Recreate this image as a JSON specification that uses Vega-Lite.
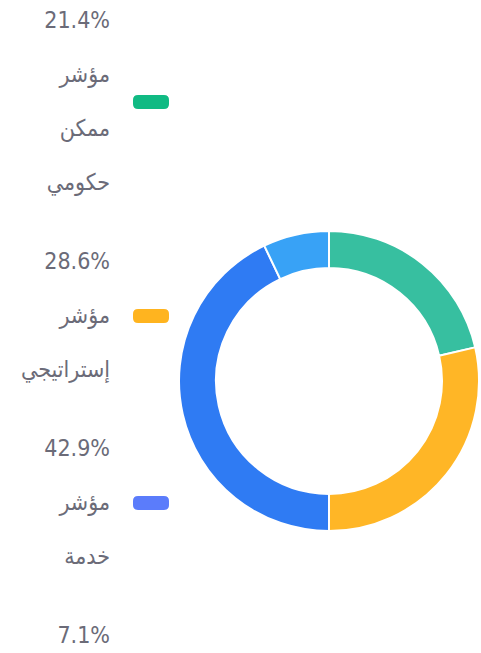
{
  "$schema": "https://vega.github.io/schema/vega-lite/v6.json",
  "width": 232,
  "height": 412,
  "autosize": {"type": "none"},
  "padding": {"left": 213, "top": 175, "right": 36, "bottom": 66},
  "background": "white",
  "view": {"stroke": null},
  "data": {
    "values": [
      {"name": "مؤشر ممكن حكومي", "pct": 21.4, "order": 1},
      {"name": "مؤشر إستراتيجي", "pct": 28.6, "order": 2},
      {"name": "مؤشر خدمة", "pct": 42.9, "order": 3},
      {"name": "مؤشر تشغيلي", "pct": 7.1, "order": 4}
    ]
  },
  "transform": [
    {"calculate": "format(datum.pct, '.1f') + '% ' + datum.name", "as": "key"}
  ],
  "encoding": {
    "theta": {"field": "pct", "type": "quantitative", "stack": true},
    "order": {"field": "order", "type": "quantitative"}
  },
  "layer": [
    {
      "mark": {"type": "arc", "outerRadius": 150, "innerRadius": 113, "opacity": 0},
      "encoding": {
        "color": {
          "field": "key",
          "type": "nominal",
          "sort": {"field": "order"},
          "scale": {"range": ["#10BA83", "#FFB41F", "#5B7CFB", "#38A2F6"]},
          "legend": {
            "orient": "none",
            "legendX": -80,
            "legendY": -91,
            "title": null,
            "direction": "vertical",
            "symbolType": "M-0.72,-0.39 L0.72,-0.39 Q1,-0.39 1,-0.11 L1,0.11 Q1,0.39 0.72,0.39 L-0.72,0.39 Q-1,0.39 -1,0.11 L-1,-0.11 Q-1,-0.39 -0.72,-0.39 Z",
            "symbolSize": 1296,
            "symbolStrokeWidth": 0,
            "symbolOpacity": 1,
            "labelExpr": "split(datum.label, ' ')",
            "labelAlign": "right",
            "labelOffset": -59,
            "labelFont": "DejaVu Sans Condensed, DejaVu Sans",
            "labelFontSize": 23,
            "labelColor": "#6b6b78",
            "labelLimit": 300,
            "rowPadding": 56,
            "encoding": {
              "labels": {
                "lineHeight": {"value": 54},
                "dy": {"value": {"expr": "-(length(split(datum.label, ' ')) - 1) * 27"}}
              }
            }
          }
        }
      }
    },
    {
      "mark": {"type": "arc", "outerRadius": 150, "innerRadius": 113, "stroke": "white", "strokeWidth": 2},
      "encoding": {
        "color": {
          "field": "key",
          "type": "nominal",
          "sort": {"field": "order"},
          "scale": {"range": ["#37BFA0", "#FFB626", "#2F7BF3", "#38A2F6"]},
          "legend": null
        }
      }
    }
  ],
  "resolve": {"scale": {"color": "independent"}, "legend": {"color": "independent"}}
}
